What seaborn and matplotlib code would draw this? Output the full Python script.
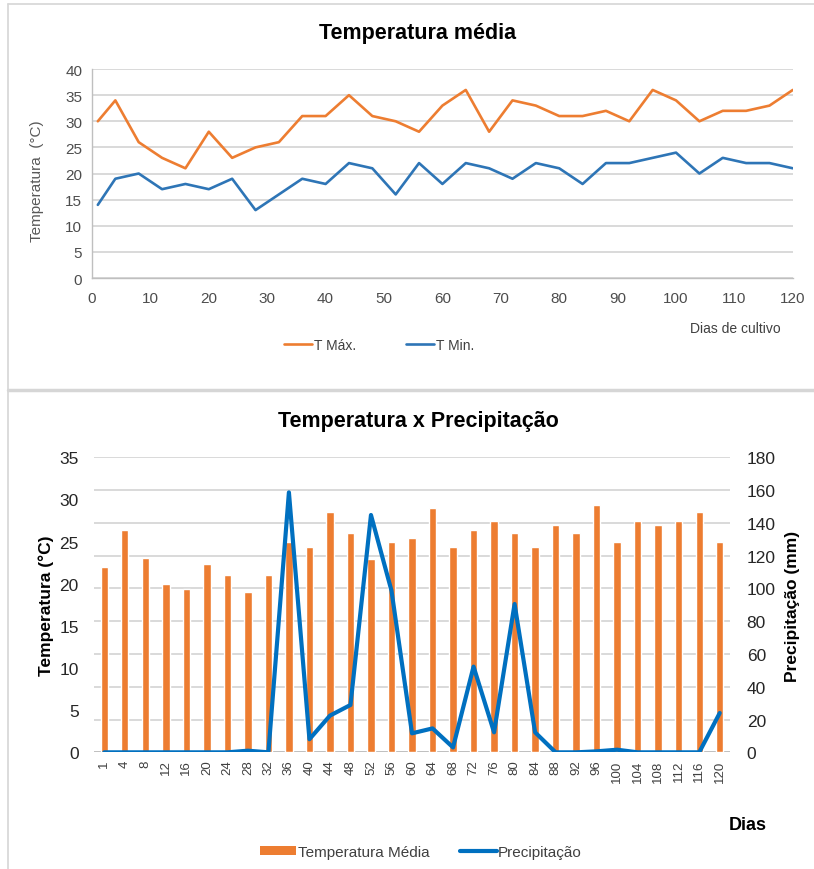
import numpy as np
import pandas as pd
import matplotlib
matplotlib.use("Agg")
import matplotlib.pyplot as plt
from matplotlib.lines import Line2D
from matplotlib.patches import Patch
import seaborn as sns

# Sampling days (every 4 days of the crop cycle)
days = [1, 4, 8, 12, 16, 20, 24, 28, 32, 36, 40, 44, 48, 52, 56, 60,
        64, 68, 72, 76, 80, 84, 88, 92, 96, 100, 104, 108, 112, 116, 120]

# Daily maximum / minimum temperature (°C)
t_max = [30, 34, 26, 23, 21, 28, 23, 25, 26, 31, 31, 35, 31, 30, 28, 33,
         36, 28, 34, 33, 31, 31, 32, 30, 36, 34, 30, 32, 32, 33, 36]
t_min = [14, 19, 20, 17, 18, 17, 19, 13, 16, 19, 18, 22, 21, 16, 22, 18,
         22, 21, 19, 22, 21, 18, 22, 22, 23, 24, 20, 23, 22, 22, 21]

# Mean temperature (°C) and rainfall (mm)
t_media = [22, 26.4, 23, 20, 19.4, 22.4, 21, 19, 21, 25, 24.4, 28.5, 26, 22.9, 25, 25.4,
           29, 24.4, 26.4, 27.5, 26, 24.4, 27, 26, 29.4, 25, 27.5, 27, 27.5, 28.5, 25]
precip = [0, 0, 0, 0, 0, 0, 0, 1, 0, 158.6, 8, 22.4, 28.9, 144.8, 98.6, 11.6,
          14.6, 3, 52.3, 12.2, 90.5, 12.2, 0, 0, 0.6, 1.6, 0, 0, 0, 0, 24]

top_xticks = list(range(0, 121, 10))
top_yticks = list(range(0, 41, 5))
left_yticks = list(range(0, 36, 5))
right_yticks = list(range(0, 181, 20))

ORANGE = "#ED7D31"
BLUE_TOP = "#2E75B6"
BLUE_BOT = "#0070C0"
GRID = "#D9D9D9"
TICK = "#595959"

sns.set_theme(style="white")
plt.rcParams["font.family"] = ["Liberation Sans", "DejaVu Sans"]

fig = plt.figure(figsize=(8.14, 8.70), dpi=100)

# ---------------- panel frames ----------------
frame_kw = dict(transform=fig.transFigure, color="#D6D6D6", zorder=0)
fig.add_artist(Line2D([8 / 814, 8 / 814], [0, 1 - 5 / 870], lw=1.2, **frame_kw))
fig.add_artist(Line2D([8 / 814, 1], [1 - 5 / 870, 1 - 5 / 870], lw=1.2, **frame_kw))
fig.add_artist(Line2D([8 / 814, 1], [1 - 391 / 870, 1 - 391 / 870], lw=2.5, **frame_kw))

# ---------------- top: Temperatura média ----------------
ax1 = fig.add_axes([0.113, 0.6793, 0.861, 0.2402])
df_t = pd.DataFrame({"dia": days, "T Máx.": t_max, "T Min.": t_min})
sns.lineplot(data=df_t, x="dia", y="T Máx.", ax=ax1, color=ORANGE, lw=1.9)
sns.lineplot(data=df_t, x="dia", y="T Min.", ax=ax1, color=BLUE_TOP, lw=1.9)
ax1.set_xlim(0, 120)
ax1.set_ylim(0, 40)
ax1.set_xticks(top_xticks)
ax1.set_yticks(top_yticks)
ax1.set_xlabel("")
ax1.set_ylabel("")
ax1.yaxis.grid(True, color=GRID, lw=1.4)
ax1.set_axisbelow(True)
for s in ["top", "right"]:
    ax1.spines[s].set_visible(False)
for s in ["left", "bottom"]:
    ax1.spines[s].set_color("#BFBFBF")
    ax1.spines[s].set_linewidth(1.0)
ax1.tick_params(axis="both", length=0, labelsize=11, colors="#4D4D4D", pad=7)
ax1.tick_params(axis="x", pad=9)

fig.text(0.5135, 0.961, "Temperatura média", ha="center", va="center",
         fontsize=15.5, fontweight="bold", color="black")
fig.text(0.045, 0.792, "Temperatura  (°C)", ha="center", va="center",
         rotation=90, fontsize=11, color=TICK)
fig.text(0.903, 0.622, "Dias de cultivo", ha="center", va="center",
         fontsize=10, color="#404040")
fig.legend(handles=[Line2D([], [], color=ORANGE, lw=1.9),
                    Line2D([], [], color=BLUE_TOP, lw=1.9)],
           labels=["T Máx.", "T Min."], loc="center", bbox_to_anchor=(0.466, 0.602),
           ncol=2, frameon=False, fontsize=10, handlelength=2.0, handletextpad=0.15,
           columnspacing=3.6, labelcolor="#404040")

# ---------------- bottom: Temperatura x Precipitação ----------------
ax2 = fig.add_axes([0.1155, 0.1341, 0.7813, 0.3391])
labels = [str(d) for d in days]
df_b = pd.DataFrame({"dia": labels, "t_media": t_media, "precip": precip})
sns.barplot(data=df_b, x="dia", y="t_media", ax=ax2, color=ORANGE,
            saturation=1, width=0.36, zorder=2)
ax2.set_xlim(-0.5, len(days) - 0.5)
ax2.set_ylim(0, 35)
ax2.set_yticks(left_yticks)
ax2.set_xlabel("")
ax2.set_ylabel("")
# gridlines follow the right-hand (precipitation) scale
for v in right_yticks:
    ax2.axhline(v * 35 / 180, color=GRID if v else "#BFBFBF", lw=1.4, zorder=0)
for s in ax2.spines.values():
    s.set_visible(False)
ax2.tick_params(axis="y", length=0, labelsize=12.5, colors="#262626", pad=11)
ax2.tick_params(axis="x", length=0, labelsize=9.5, colors="#404040", pad=5,
                labelrotation=90)

ax3 = ax2.twinx()
sns.lineplot(data=df_b, x="dia", y="precip", ax=ax3, color=BLUE_BOT, lw=3.0,
             sort=False)
ax3.set_ylim(0, 180)
ax3.set_yticks(right_yticks)
ax3.set_ylabel("")
ax3.set_xlim(-0.5, len(days) - 0.5)
for s in ax3.spines.values():
    s.set_visible(False)
ax3.tick_params(axis="y", length=0, labelsize=12.5, colors="#262626", pad=12)
ax3.grid(False)

fig.text(0.5135, 0.516, "Temperatura x Precipitação", ha="center", va="center",
         fontsize=15.5, fontweight="bold", color="black")
fig.text(0.0565, 0.3034, "Temperatura (°C)", ha="center", va="center",
         rotation=90, fontsize=12.5, fontweight="bold", color="black")
fig.text(0.973, 0.3034, "Precipitação (mm)", ha="center", va="center",
         rotation=90, fontsize=12.5, fontweight="bold", color="black")
fig.text(0.919, 0.0506, "Dias", ha="center", va="center",
         fontsize=13, fontweight="bold", color="black")
fig.legend(handles=[Patch(facecolor=ORANGE, edgecolor="none"),
                    Line2D([], [], color=BLUE_BOT, lw=3.0)],
           labels=["Temperatura Média", "Precipitação"], loc="center",
           bbox_to_anchor=(0.517, 0.0195), ncol=2, frameon=False, fontsize=11,
           handlelength=2.4, handleheight=0.5, handletextpad=0.1,
           columnspacing=2.0, labelcolor="#404040")

fig.savefig("out.png", dpi=100, facecolor="white")
